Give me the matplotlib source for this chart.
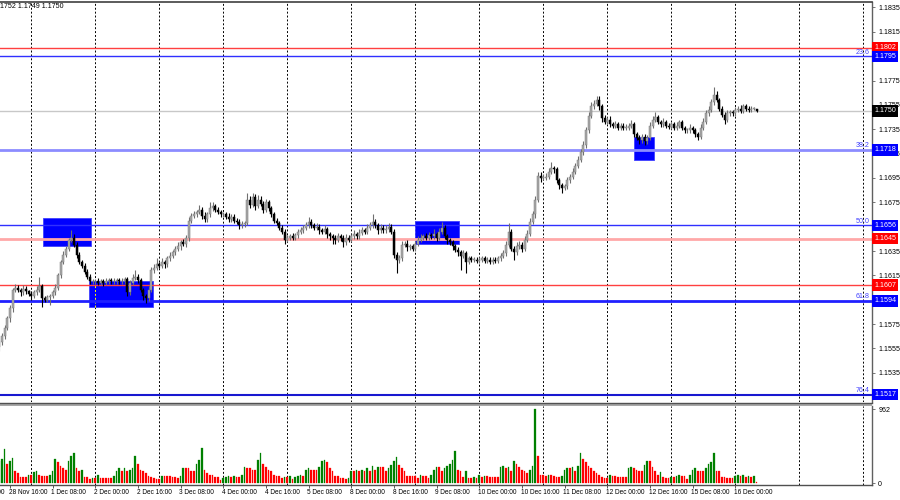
import matplotlib

matplotlib.use("Agg")
import matplotlib.pyplot as plt
from matplotlib.patches import Rectangle
from matplotlib.transforms import blended_transform_factory

plt.rcParams["font.family"] = ["Liberation Sans", "DejaVu Sans"]

# EURUSD H1, 28 Nov 12:00 .. 16 Dec 08:00 (one value per hourly bar)
first_open = 1.1556
close_28nov = [1.1560, 1.1565, 1.1572, 1.1580, 1.1588, 1.1603, 1.1605, 1.1603, 1.1601, 1.1604, 1.1602, 1.1600]
close_01dec = [1.1598, 1.1601, 1.1603, 1.1606, 1.1596, 1.1595, 1.1597, 1.1598, 1.1601, 1.1605, 1.1615, 1.1626,
               1.1632, 1.1637, 1.1644, 1.1646, 1.1640, 1.1632, 1.1626, 1.1623, 1.1618, 1.1614, 1.1610, 1.1610]
close_02dec = [1.1610, 1.1609, 1.1610, 1.1609, 1.1610, 1.1611, 1.1610, 1.1610, 1.1611, 1.1610, 1.1610, 1.1612,
               1.1601, 1.1609, 1.1613, 1.1614, 1.1611, 1.1603, 1.1598, 1.1596, 1.1603, 1.1619, 1.1621, 1.1624]
close_03dec = [1.1623, 1.1626, 1.1624, 1.1629, 1.1631, 1.1634, 1.1637, 1.1639, 1.1642, 1.1641, 1.1646, 1.1660,
               1.1664, 1.1665, 1.1667, 1.1669, 1.1664, 1.1661, 1.1665, 1.1670, 1.1672, 1.1669, 1.1667, 1.1665]
close_04dec = [1.1665, 1.1663, 1.1661, 1.1663, 1.1660, 1.1659, 1.1656, 1.1657, 1.1658, 1.1677, 1.1673, 1.1679,
               1.1672, 1.1677, 1.1674, 1.1669, 1.1675, 1.1670, 1.1665, 1.1660, 1.1658, 1.1654, 1.1651, 1.1644]
close_05dec = [1.1646, 1.1647, 1.1646, 1.1648, 1.1651, 1.1652, 1.1654, 1.1656, 1.1659, 1.1656, 1.1654, 1.1655,
               1.1652, 1.1651, 1.1653, 1.1649, 1.1647, 1.1646, 1.1644, 1.1647, 1.1646, 1.1642, 1.1646, 1.1644]
close_08dec = [1.1647, 1.1649, 1.1647, 1.1650, 1.1652, 1.1651, 1.1654, 1.1656, 1.1659, 1.1656, 1.1652, 1.1654,
               1.1652, 1.1653, 1.1655, 1.1651, 1.1632, 1.1628, 1.1629, 1.1640, 1.1641, 1.1638, 1.1639, 1.1637]
close_09dec = [1.1641, 1.1644, 1.1646, 1.1647, 1.1646, 1.1648, 1.1647, 1.1649, 1.1646, 1.1651, 1.1654, 1.1647,
               1.1644, 1.1642, 1.1639, 1.1636, 1.1634, 1.1631, 1.1633, 1.1626, 1.1629, 1.1628, 1.1628, 1.1627]
close_10dec = [1.1628, 1.1629, 1.1627, 1.1628, 1.1626, 1.1628, 1.1627, 1.1629, 1.1631, 1.1633, 1.1640, 1.1651,
               1.1637, 1.1634, 1.1639, 1.1640, 1.1637, 1.1644, 1.1649, 1.1659, 1.1665, 1.1677, 1.1697, 1.1695]
close_11dec = [1.1695, 1.1696, 1.1700, 1.1703, 1.1702, 1.1693, 1.1689, 1.1687, 1.1688, 1.1693, 1.1696, 1.1700,
               1.1705, 1.1710, 1.1716, 1.1722, 1.1734, 1.1746, 1.1754, 1.1756, 1.1759, 1.1754, 1.1744, 1.1741]
close_12dec = [1.1743, 1.1739, 1.1738, 1.1739, 1.1736, 1.1738, 1.1736, 1.1736, 1.1738, 1.1739, 1.1731, 1.1728,
               1.1726, 1.1729, 1.1725, 1.1728, 1.1738, 1.1743, 1.1745, 1.1741, 1.1739, 1.1741, 1.1738, 1.1737]
close_15dec = [1.1739, 1.1736, 1.1738, 1.1741, 1.1736, 1.1734, 1.1734, 1.1736, 1.1734, 1.1731, 1.1729, 1.1736,
               1.1741, 1.1748, 1.1751, 1.1757, 1.1763, 1.1759, 1.1752, 1.1747, 1.1743, 1.1748, 1.1749, 1.1748]
close_16dec = [1.1751, 1.1752, 1.1750, 1.1754, 1.1752, 1.1751, 1.1752, 1.1752, 1.1750]

# wick lengths in pips above / below the candle body
upper_wick = [2, 3, 2, 2, 3, 2, 3, 2, 2, 3, 2, 1,
              2, 2, 3, 8, 2, 2, 2, 2, 2, 3, 2, 2, 3, 2, 2, 6, 3, 2, 2, 2, 2, 2, 2, 2,
              2, 3, 2, 2, 3, 2, 2, 3, 2, 2, 3, 2, 2, 2, 3, 5, 2, 2, 2, 2, 3, 3, 3, 5,
              2, 3, 2, 2, 3, 2, 2, 3, 2, 3, 2, 3, 2, 3, 2, 4, 2, 3, 2, 5, 3, 2, 2, 2,
              2, 2, 3, 2, 2, 2, 2, 3, 2, 6, 3, 4, 3, 4, 3, 2, 3, 2, 2, 2, 2, 2, 2, 2,
              2, 2, 3, 2, 2, 3, 2, 3, 4, 2, 2, 3, 2, 2, 3, 2, 2, 2, 2, 3, 2, 2, 3, 2,
              2, 3, 2, 3, 3, 2, 3, 3, 6, 2, 2, 3, 2, 3, 3, 2, 2, 2, 3, 3, 2, 3, 2, 2,
              2, 3, 3, 2, 3, 3, 2, 4, 2, 3, 5, 2, 2, 2, 2, 2, 2, 2, 3, 2, 2, 2, 2, 2,
              2, 2, 2, 2, 2, 2, 2, 2, 2, 3, 3, 7, 2, 2, 3, 3, 2, 3, 3, 3, 3, 3, 3, 3,
              3, 3, 3, 5, 2, 2, 2, 2, 2, 3, 2, 3, 2, 3, 3, 3, 3, 3, 3, 3, 3, 3, 2, 3,
              2, 3, 2, 3, 2, 2, 2, 3, 2, 4, 2, 2, 2, 2, 2, 2, 3, 3, 4, 2, 2, 3, 2, 2,
              2, 2, 3, 2, 2, 2, 2, 3, 2, 2, 2, 3, 3, 3, 3, 3, 7, 3, 2, 2, 2, 3, 2, 2,
              2, 2, 3, 2, 2, 2, 2, 1, 0]
lower_wick = [3, 2, 2, 2, 3, 3, 2, 2, 3, 2, 2, 2,
              3, 2, 2, 2, 7, 2, 2, 6, 2, 2, 2, 2, 2, 2, 2, 2, 2, 3, 2, 2, 2, 2, 2, 2,
              2, 2, 2, 3, 2, 2, 2, 2, 2, 2, 2, 2, 3, 2, 2, 2, 2, 2, 3, 4, 2, 2, 2, 2,
              2, 2, 3, 2, 2, 2, 2, 2, 3, 2, 3, 3, 2, 2, 2, 2, 3, 2, 2, 2, 2, 2, 2, 2,
              2, 2, 2, 2, 2, 2, 3, 2, 2, 2, 3, 2, 3, 2, 2, 3, 2, 2, 2, 2, 2, 2, 2, 3,
              2, 2, 2, 2, 2, 2, 2, 2, 2, 2, 2, 2, 3, 2, 2, 3, 3, 5, 3, 2, 3, 4, 2, 2,
              2, 2, 2, 2, 2, 2, 2, 2, 2, 2, 3, 2, 2, 2, 2, 2, 3, 11, 3, 2, 2, 3, 2, 2,
              2, 2, 2, 2, 2, 2, 2, 2, 3, 2, 2, 2, 3, 2, 3, 2, 3, 12, 2, 9, 2, 2, 2, 2,
              2, 2, 2, 2, 2, 2, 2, 2, 2, 2, 2, 2, 2, 6, 2, 2, 3, 2, 2, 2, 2, 3, 2, 3,
              2, 2, 2, 2, 3, 2, 3, 4, 2, 2, 2, 2, 2, 2, 2, 2, 2, 2, 2, 2, 2, 3, 3, 2,
              2, 2, 2, 2, 2, 2, 2, 2, 2, 2, 2, 2, 3, 2, 3, 2, 2, 2, 2, 2, 2, 2, 2, 2,
              2, 2, 2, 2, 2, 2, 2, 2, 2, 2, 3, 2, 2, 2, 2, 2, 2, 2, 2, 2, 4, 2, 2, 2,
              2, 2, 2, 2, 2, 2, 2, 1, 1]

volume = [290, 310, 440, 250, 290, 330, 150, 125, 75, 75, 75, 110,
          110, 140, 160, 110, 90, 90, 90, 110, 150, 310, 275, 225, 190, 175, 290, 350, 390, 200, 150, 175, 75, 75, 50, 65,
          65, 100, 65, 65, 65, 65, 65, 90, 160, 190, 160, 190, 150, 175, 190, 350, 250, 175, 160, 125, 90, 75, 65, 50,
          50, 90, 90, 90, 90, 75, 75, 65, 90, 190, 190, 190, 160, 160, 250, 300, 460, 175, 125, 100, 100, 75, 75, 40,
          65, 75, 90, 75, 90, 75, 75, 100, 210, 190, 190, 175, 175, 300, 390, 250, 210, 175, 150, 100, 90, 90, 65, 75,
          75, 90, 50, 75, 90, 100, 90, 175, 200, 175, 175, 175, 210, 290, 300, 275, 190, 160, 90, 90, 65, 65, 50, 65,
          150, 150, 175, 160, 175, 150, 200, 160, 225, 175, 210, 210, 210, 160, 200, 240, 290, 340, 240, 200, 160, 90, 90, 90,
          90, 65, 100, 90, 90, 65, 100, 175, 210, 210, 160, 190, 225, 250, 300, 410, 175, 150, 75, 160, 65, 65, 75, 65,
          100, 75, 90, 90, 75, 75, 75, 75, 210, 225, 190, 210, 150, 290, 250, 210, 175, 150, 125, 175, 225, 962, 350, 100,
          100, 90, 100, 100, 90, 75, 75, 90, 175, 200, 190, 210, 160, 225, 390, 310, 275, 225, 200, 160, 125, 100, 75, 65,
          65, 100, 90, 90, 75, 75, 75, 75, 200, 210, 190, 175, 150, 150, 240, 290, 290, 210, 160, 100, 140, 75, 65, 65,
          75, 75, 90, 100, 90, 90, 50, 100, 175, 190, 160, 160, 150, 190, 250, 275, 390, 160, 160, 75, 75, 65, 65, 65,
          90, 110, 90, 100, 75, 90, 75, 90, 15]

# horizontal levels: price, line colour, label box colour, width
level_price = [1.1802, 1.1795, 1.1750, 1.1718, 1.1656, 1.1645, 1.1607, 1.1594, 1.1517]
level_color = ["#ff4040", "#3030ff", "#c8c8c8", "#8c8cff", "#3030ff", "#ffa8a8", "#ff4040", "#2020ff", "#1818d0"]
level_box = ["#ff0000", "#0000ff", "#000000", "#0000ff", "#0000ff", "#ff0000", "#ff0000", "#0000ff", "#0000ff"]
level_lw = [1.0, 1.0, 1.0, 2.0, 1.0, 2.0, 1.0, 2.0, 1.5]

fib_price = [1.1795, 1.1718, 1.1656, 1.1594, 1.1517]
fib_label = ["23.6", "38.2", "50.0", "61.8", "76.4"]

# blue zones: start bar, end bar, top price, bottom price
zone_start = [16.6, 33.5, 156.1, 237.9]
zone_end = [34.6, 57.5, 172.6, 245.7]
zone_top = [1.1662, 1.1610, 1.1660, 1.1729]
zone_bottom = [1.1639, 1.1589, 1.1641, 1.1710]

price_ticks = [1.1835, 1.1815, 1.1795, 1.1775, 1.1755, 1.1735, 1.1715, 1.1695, 1.1675, 1.1655,
               1.1635, 1.1615, 1.1595, 1.1575, 1.1555, 1.1535, 1.1515]
hidden_ticks = [1.1795, 1.1655, 1.1595, 1.1515]  # sit under the level boxes
time_labels = ["28 Nov 00:00", "28 Nov 16:00", "1 Dec 08:00", "2 Dec 00:00", "2 Dec 16:00", "3 Dec 08:00",
               "4 Dec 00:00", "4 Dec 16:00", "5 Dec 08:00", "8 Dec 00:00", "8 Dec 16:00", "9 Dec 08:00",
               "10 Dec 00:00", "10 Dec 16:00", "11 Dec 08:00", "12 Dec 00:00", "12 Dec 16:00", "15 Dec 08:00",
               "16 Dec 00:00"]

closes = (close_28nov + close_01dec + close_02dec + close_03dec + close_04dec + close_05dec + close_08dec
          + close_09dec + close_10dec + close_11dec + close_12dec + close_15dec + close_16dec)
opens = [first_open] + closes[:-1]
n = len(closes)
xs = list(range(n))
highs = [max(o, c) + w * 0.0001 for o, c, w in zip(opens, closes, upper_wick)]
lows = [min(o, c) - w * 0.0001 for o, c, w in zip(opens, closes, lower_wick)]

FS = 5.1
FS_TIME = 4.7
W, H = 900, 500
fig = plt.figure(figsize=(9, 5), dpi=100)
ax = fig.add_axes([0, 1 - 402 / H, 872 / W, 400 / H])
axv = fig.add_axes([0, 1 - 485 / H, 872 / W, 79 / H])

XL = (0.3, 327.3)
day_lines = list(range(12, n + 40, 24))
for a in (ax, axv):
    a.set_xlim(*XL)
    for s in ("left", "top", "bottom"):
        a.spines[s].set_visible(False)
    a.spines["right"].set_color("#606060")
    a.spines["right"].set_linewidth(1.0)
    a.set_facecolor("white")
    # daily separators
    for d in day_lines:
        a.axvline(d, color="black", lw=0.7, ls=(0, (2, 2)), zorder=1.5)

ax.set_ylim(1.1511, 1.18395)

# zones (grid dashes show up yellow on the blue fill)
for x0, x1, t, b in zip(zone_start, zone_end, zone_top, zone_bottom):
    ax.add_patch(Rectangle((x0, b), x1 - x0, t - b, facecolor="#0000ff", edgecolor="#4040ff",
                           lw=0.6, zorder=1.6))
    for d in day_lines:
        if x0 <= d <= x1:
            ax.vlines(d, b, t, color="#ffff00", lw=0.7, ls=(0, (2, 2)), zorder=1.7)

# levels
ytr = ax.get_yaxis_transform()
for p, c, bc, lw in zip(level_price, level_color, level_box, level_lw):
    ax.axhline(p, color=c, lw=lw, zorder=2)
    ax.text(1.0025, p, f"{p:.4f}", transform=ytr, ha="left", va="center", color="white", fontsize=FS,
            zorder=6, clip_on=False,
            bbox=dict(boxstyle="square,pad=0.3", fc=bc, ec=bc, lw=0))
for p, lab in zip(fib_price, fib_label):
    ax.text(0.997, p + 0.00004, lab, transform=ytr, ha="right", va="bottom", color="#4040ff", fontsize=FS,
            zorder=4)

# candles
bull = [c >= o for o, c in zip(opens, closes)]
wick_col = ["#707070" if b else "black" for b in bull]
body_col = ["#a8a8a8" if b else "black" for b in bull]
edge_col = ["#7c7c7c" if b else "black" for b in bull]
ax.vlines(xs, lows, highs, colors=wick_col, lw=0.8, zorder=3)
ax.bar(xs, [max(abs(c - o), 0.00006) for o, c in zip(opens, closes)],
       bottom=[min(o, c) for o, c in zip(opens, closes)], width=0.74,
       color=body_col, edgecolor=edge_col, lw=0.35, zorder=3.5)

ax.yaxis.tick_right()
ax.set_yticks(price_ticks)
ax.set_yticklabels(["" if p in hidden_ticks else f"{p:.4f}" for p in price_ticks])
ax.tick_params(axis="y", direction="out", length=2.5, width=0.6, pad=2, labelsize=FS, color="#606060")
ax.set_xticks([])

fig.text(0.0, 1 - 6 / H, "1752 1.1749 1.1750", fontsize=FS, ha="left", va="center")

# volume panel
vol_col = ["#008000"] + ["#008000" if volume[i] > volume[i - 1] else "#ff0000" for i in range(1, n)]
axv.bar(xs, volume, width=0.7, color=vol_col, edgecolor=vol_col, lw=0.2, zorder=3)
axv.set_ylim(-26, 1001)
axv.yaxis.tick_right()
axv.set_yticks([0, 962])
axv.set_yticklabels(["0", "962"])
axv.tick_params(axis="y", direction="out", length=2.5, width=0.6, pad=2, labelsize=FS, color="#606060")

label_pos = [-12 + 16 * k for k in range(len(time_labels))]
axv.set_xticks([p for p in label_pos if XL[0] <= p <= XL[1]])
axv.set_xticklabels([])
axv.tick_params(axis="x", direction="out", length=2.5, width=0.6, color="#404040")
xtr = blended_transform_factory(axv.transData, axv.transAxes)
for p, lab in zip(label_pos, time_labels):
    axv.text(p - 0.4, -0.05, lab, transform=xtr, ha="left", va="top", fontsize=FS_TIME, clip_on=False)

# panel separator and frame lines
fig.add_artist(Rectangle((0, 1 - 406 / H), 872 / W, 3.5 / H, transform=fig.transFigure,
                         facecolor="#a8a8a8", edgecolor="none"))
fig.add_artist(plt.Line2D([0, 872 / W], [1 - 402.5 / H] * 2, transform=fig.transFigure, color="#505050", lw=1))
fig.add_artist(plt.Line2D([0, 872 / W], [1 - 1.5 / H] * 2, transform=fig.transFigure, color="#404040", lw=1.2))
fig.add_artist(plt.Line2D([0, 872 / W], [1 - 485 / H] * 2, transform=fig.transFigure, color="#505050", lw=1))

fig.savefig("out.png", dpi=100)
